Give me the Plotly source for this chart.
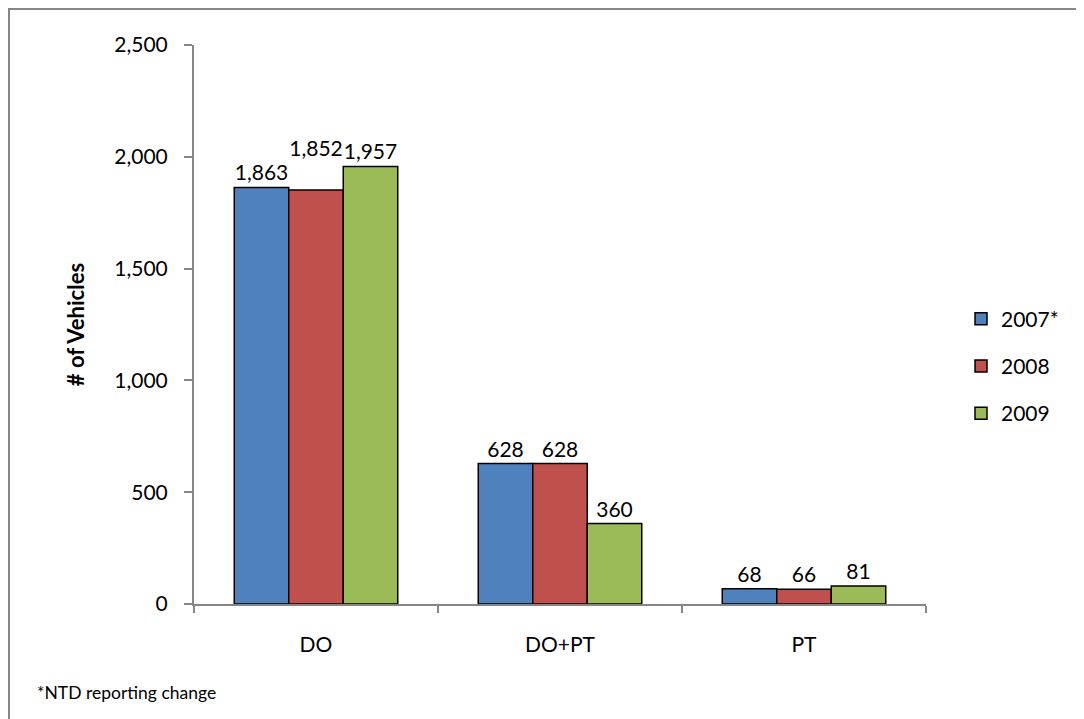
import plotly.graph_objects as go

categories = ["DO", "DO+PT", "PT"]
years = ["2007*", "2008", "2009"]
values_2007 = [1863, 628, 68]
values_2008 = [1852, 628, 66]
values_2009 = [1957, 360, 81]
colors = ["#4F81BD", "#C0504D", "#9BBB59"]
y_ticks = [0, 500, 1000, 1500, 2000, 2500]

FONT = "Lato, Carlito, Calibri, sans-serif"
GRAY = "#868686"

series = [values_2007, values_2008, values_2009]

fig = go.Figure()
for i, (name, vals) in enumerate(zip(years, series)):
    labels = [f"{v:,}" for v in vals]
    if i == 1:
        # lift the middle DO label above its neighbours, as in the original
        labels[0] = labels[0] + "<br> "
    fig.add_trace(go.Bar(
        x=categories, y=vals, name=name,
        marker=dict(color=colors[i], line=dict(color="black", width=1.5)),
        text=labels, texttemplate="%{text}", textposition="outside",
        textfont=dict(size=21, color="black", family=FONT),
        cliponaxis=False, legendgroup=name,
    ))

W, H = 1084, 719
L, T = 186, 37
R = W - 918
B = H - 596
pw, ph = W - L - R, H - T - B

fig.update_layout(
    width=W, height=H,
    margin=dict(l=L, r=R, t=T, b=B),
    paper_bgcolor="white", plot_bgcolor="white",
    barmode="group", bargap=0.33, bargroupgap=0,
    font=dict(family=FONT, size=21, color="black"),
    showlegend=True,
    uniformtext=dict(minsize=8, mode=False),
    legend=dict(x=(953 - L) / pw, xanchor="left", y=(596 - 358) / ph, yanchor="middle",
                font=dict(size=21, family=FONT), tracegroupgap=17,
                bgcolor="rgba(0,0,0,0)", itemwidth=30),
    xaxis=dict(showline=True, linecolor=GRAY, linewidth=2, ticks="outside",
               tickson="boundaries", tickcolor=GRAY, tickwidth=2, ticklen=7,
               ticklabelstandoff=21,
               tickfont=dict(size=21, family=FONT), showgrid=False),
    yaxis=dict(range=[0, 2500], tickvals=y_ticks, tickformat=",", showline=True,
               linecolor=GRAY, linewidth=2, ticks="outside", tickcolor=GRAY,
               tickwidth=2, ticklen=8, ticklabelstandoff=12,
               showgrid=False, zeroline=False,
               tickfont=dict(size=21, family=FONT),
               title=dict(text="<b># of Vehicles</b>", font=dict(size=22, family=FONT), standoff=24)),
)

fig.add_shape(type="rect", xref="paper", yref="paper",
              x0=(1 - L) / pw, x1=(W + 20 - L) / pw,
              y0=(596 - H - 20) / ph, y1=(596 - 1) / ph,
              line=dict(color=GRAY, width=2), fillcolor="rgba(0,0,0,0)", layer="below")

fig.add_annotation(text="*NTD reporting change", xref="paper", yref="paper",
                   x=(27 - L) / pw, y=(596 - 684) / ph, xanchor="left", yanchor="middle",
                   showarrow=False, font=dict(size=17.5, family=FONT, color="black"))

fig.write_html("out.html")
